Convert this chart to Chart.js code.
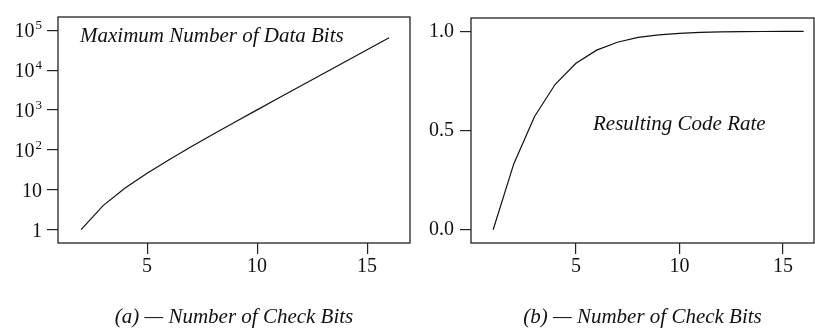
<!DOCTYPE html>
<html>
<head>
<meta charset="utf-8">
<script src="https://cdn.jsdelivr.net/npm/chart.js@4.4.1/dist/chart.umd.min.js"></script>
<style>
  html, body { margin: 0; padding: 0; background: #fff; }
  #wrapA { position: absolute; left: 0; top: 0; }
  #wrapB { position: absolute; left: 412px; top: 0; }
</style>
</head>
<body>
<div id="wrapA"><canvas id="chartA" width="412" height="329"></canvas></div>
<div id="wrapB"><canvas id="chartB" width="403" height="329"></canvas></div>
<script>
// --- DATA ---
const checkBitsA = [2, 3, 4, 5, 6, 7, 8, 9, 10, 11, 12, 13, 14, 15, 16];
const maxDataBits = [1, 4, 11, 26, 57, 120, 247, 502, 1013, 2036, 4083, 8178, 16369, 32752, 65519];

const checkBitsB = [1, 2, 3, 4, 5, 6, 7, 8, 9, 10, 11, 12, 13, 14, 15, 16];
const codeRate = [0, 0.333, 0.571, 0.733, 0.839, 0.905, 0.945, 0.969, 0.982, 0.990, 0.995, 0.997, 0.998, 0.999, 1.0, 1.0];

const xTicks = [5, 10, 15];
const logTicks = [1, 10, 100, 1000, 10000, 100000];
// base + exponent, exponent drawn raised
const logTickBase = ['1', '10', '10', '10', '10', '10'];
const logTickExp = ['', '', '2', '3', '4', '5'];
const rateTicks = [0, 0.5, 1.0];
const rateTickLabels = ['0.0', '0.5', '1.0'];

const FONT = '"Liberation Serif", "Times New Roman", Times, serif';
const INK = '#222';

// frame round the plot + the italic label inside it + power-of-ten labels
const framePlugin = {
    id: 'frame',
    afterDraw(chart, args, opts) {
        const { ctx, chartArea: a } = chart;
        ctx.save();
        ctx.strokeStyle = INK;
        ctx.lineWidth = 1.3;
        ctx.strokeRect(a.left, a.top, a.right - a.left, a.bottom - a.top);
        if (opts.text) {
            ctx.fillStyle = '#111';
            ctx.font = 'italic 21px ' + FONT;
            ctx.textBaseline = 'alphabetic';
            ctx.fillText(opts.text, opts.x, opts.y);
        }
        if (opts.powers) {
            const ys = chart.scales.y;
            const rightX = a.left - 16;
            ctx.fillStyle = '#111';
            ctx.textBaseline = 'alphabetic';
            ctx.textAlign = 'left';
            logTicks.forEach((v, i) => {
                const py = ys.getPixelForValue(v);
                ctx.font = '13px ' + FONT;
                const ew = logTickExp[i] ? ctx.measureText(logTickExp[i]).width + 1 : 0;
                ctx.font = '20px ' + FONT;
                const bw = ctx.measureText(logTickBase[i]).width;
                const x0 = rightX - ew - bw;
                ctx.fillText(logTickBase[i], x0, py + 7);
                if (logTickExp[i]) {
                    ctx.font = '13px ' + FONT;
                    ctx.fillText(logTickExp[i], x0 + bw + 1, py - 1);
                }
            });
        }
        ctx.restore();
    }
};

function fixTicks(list) {
    return function(scale) { scale.ticks = list.map(v => ({ value: v })); };
}

function makeChart(id, xs, ys, cfg) {
    const ctx = document.getElementById(id);
    return new Chart(ctx, {
        type: 'line',
        data: {
            datasets: [{
                data: xs.map((x, i) => ({ x: x, y: ys[i] })),
                borderColor: '#111',
                borderWidth: 1.2,
                pointRadius: 0,
                tension: 0,
                fill: false
            }]
        },
        options: {
            responsive: false,
            animation: false,
            devicePixelRatio: 1,
            layout: { padding: { top: 7, right: cfg.padRight, left: 0, bottom: 0 } },
            plugins: {
                legend: { display: false },
                tooltip: { enabled: false },
                frame: { text: cfg.label, x: cfg.labelX, y: cfg.labelY, powers: cfg.powers }
            },
            scales: {
                x: {
                    type: 'linear',
                    min: cfg.xMin,
                    max: cfg.xMax,
                    afterBuildTicks: fixTicks(xTicks),
                    afterFit(scale) { scale.height = 86; },
                    border: { display: false },
                    grid: { drawOnChartArea: false, drawTicks: true, tickLength: 11, tickColor: INK, lineWidth: 1.2 },
                    ticks: { color: '#111', font: { family: FONT, size: 20 }, padding: 1, maxRotation: 0 },
                    title: {
                        display: true,
                        text: cfg.caption,
                        color: '#111',
                        font: { family: FONT, size: 21, style: 'italic' },
                        padding: { top: 0, bottom: -1 }
                    }
                },
                y: {
                    type: cfg.yType,
                    min: cfg.yMin,
                    max: cfg.yMax,
                    afterBuildTicks: fixTicks(cfg.yTicks),
                    afterFit(scale) { scale.width = cfg.yWidth; },
                    border: { display: false },
                    grid: { drawOnChartArea: false, drawTicks: true, tickLength: 11, tickColor: INK, lineWidth: 1.2 },
                    ticks: {
                        color: '#111',
                        font: { family: FONT, size: 20 },
                        padding: cfg.yPad,
                        callback: function(value) {
                            if (cfg.powers) return '';
                            const i = cfg.yTicks.indexOf(value);
                            return i >= 0 ? cfg.yLabels[i] : '';
                        }
                    }
                }
            }
        },
        plugins: [framePlugin]
    });
}

makeChart('chartA', checkBitsA, maxDataBits, {
    xMin: 0.95, xMax: 16.95,
    yType: 'logarithmic', yMin: 0.4607, yMax: 217000,
    yTicks: logTicks, yLabels: logTickBase, powers: true,
    yWidth: 58, yPad: 5, padRight: 2,
    label: 'Maximum Number of Data Bits', labelX: 80, labelY: 42,
    caption: '(a) \u2014 Number of Check Bits'
});

makeChart('chartB', checkBitsB, codeRate, {
    xMin: -0.07, xMax: 16.5,
    yType: 'linear', yMin: -0.067, yMax: 1.067,
    yTicks: rateTicks, yLabels: rateTickLabels, powers: false,
    yWidth: 59, yPad: 6, padRight: 1,
    label: 'Resulting Code Rate', labelX: 181, labelY: 130,
    caption: '(b) \u2014 Number of Check Bits'
});
</script>
</body>
</html>
